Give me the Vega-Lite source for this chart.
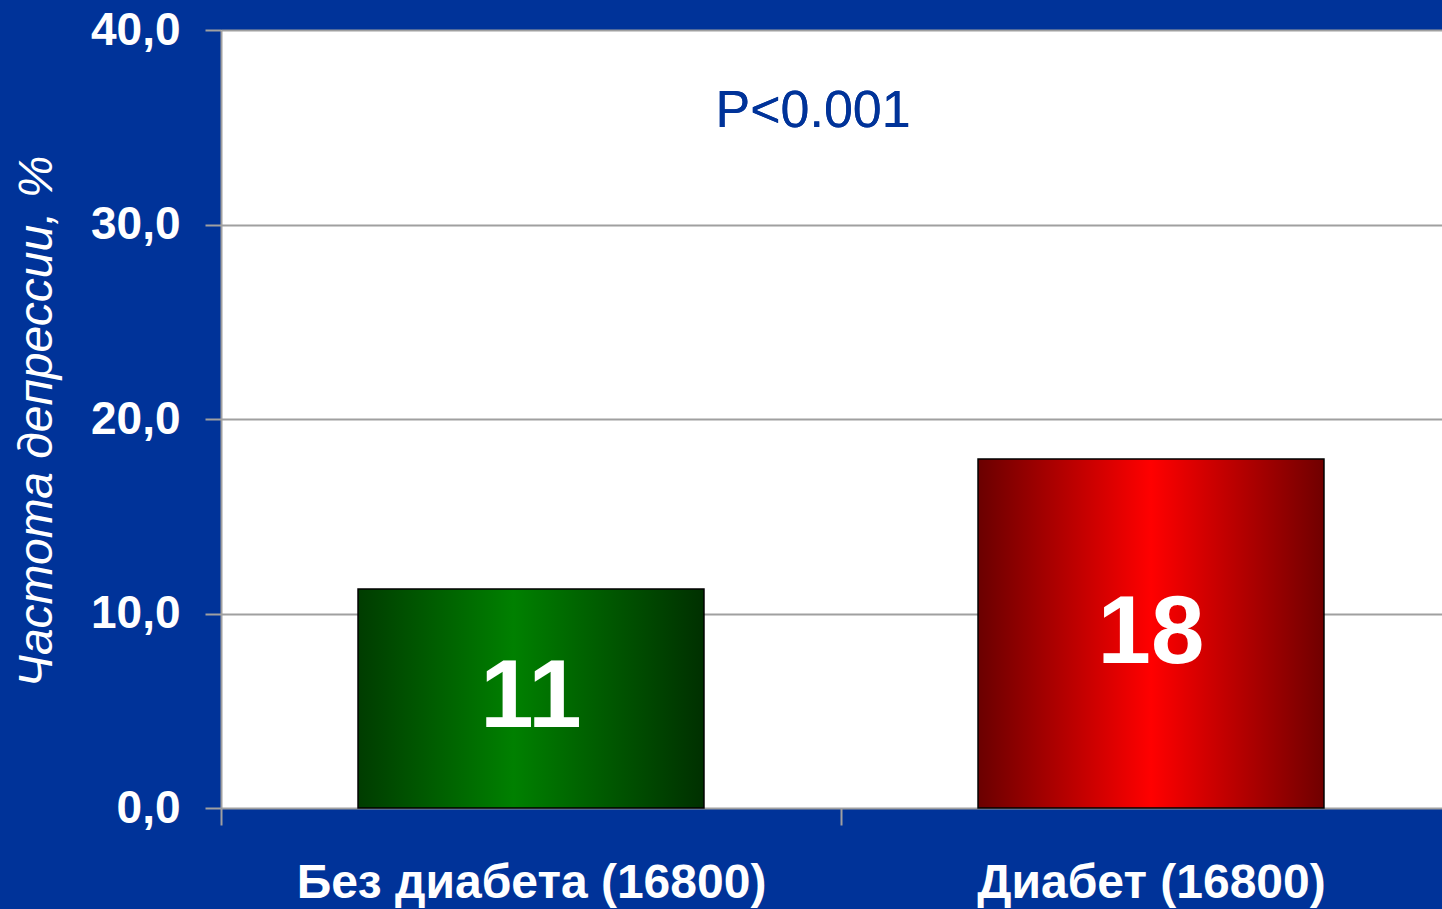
{
  "$schema": "https://vega.github.io/schema/vega-lite/v6.json",
  "autosize": {"type": "none"},
  "padding": {"left": 221, "top": 30, "right": 0, "bottom": 101},
  "width": 1221,
  "height": 778,
  "background": "#003399",
  "config": {
    "font": "Liberation Sans",
    "view": {"fill": "white", "stroke": null}
  },
  "data": {
    "values": [
      {"group": "Без диабета (16800)", "value": 11.26, "label": "11"},
      {"group": "Диабет (16800)", "value": 17.94, "label": "18"}
    ]
  },
  "encoding": {
    "x": {
      "field": "group",
      "type": "nominal",
      "sort": null,
      "scale": {"range": [0, 1240], "paddingInner": 0, "paddingOuter": 0},
      "axis": {
        "title": null,
        "labelAngle": 0,
        "labelLimit": 0,
        "labelFont": "Liberation Sans",
        "labelFontSize": 48,
        "labelFontWeight": "bold",
        "labelColor": "white",
        "labelPadding": 34,
        "tickBand": "extent",
        "tickSize": 17,
        "tickColor": "#a0a0a0",
        "tickWidth": 2,
        "domain": false,
        "grid": false
      }
    }
  },
  "layer": [
    {
      "mark": {
        "type": "bar",
        "width": {"band": 0.558},
        "stroke": "black",
        "strokeWidth": 1.5
      },
      "encoding": {
        "y": {
          "field": "value",
          "type": "quantitative",
          "scale": {"domain": [0, 40], "nice": false},
          "axis": {
            "values": [0, 10, 20, 30, 40],
            "format": ".1f",
            "formatType": "number",
            "labelExpr": "replace(datum.label, '.', ',')",
            "title": "Частота депрессии, %",
            "titleFont": "Liberation Sans",
            "titleFontSize": 48,
            "titleFontStyle": "italic",
            "titleFontWeight": "normal",
            "titleColor": "white",
            "titleAngle": 270,
            "titleBaseline": "middle",
            "titleAlign": "center",
            "titleX": -184,
            "titleY": 391,
            "labelFont": "Liberation Sans",
            "labelFontSize": 46,
            "labelFontWeight": "bold",
            "labelColor": "white",
            "labelPadding": 25,
            "labelBaseline": "middle",
            "tickSize": 16,
            "tickColor": "#a0a0a0",
            "tickWidth": 2,
            "domainColor": "#a0a0a0",
            "domainWidth": 2,
            "gridColor": "#a0a0a0",
            "gridWidth": 2
          }
        },
        "fill": {
          "condition": {
            "test": "datum.group === 'Диабет (16800)'",
            "value": {
              "gradient": "linear", "x1": 0, "x2": 1, "y1": 0, "y2": 0,
              "stops": [
                {"offset": 0, "color": "#6a0000"},
                {"offset": 0.5, "color": "#ff0000"},
                {"offset": 1, "color": "#700000"}
              ]
            }
          },
          "value": {
            "gradient": "linear", "x1": 0, "x2": 1, "y1": 0, "y2": 0,
            "stops": [
              {"offset": 0, "color": "#003c00"},
              {"offset": 0.45, "color": "#008000"},
              {"offset": 1, "color": "#003000"}
            ]
          }
        }
      }
    },
    {
      "mark": {
        "type": "text",
        "font": "Liberation Sans",
        "fontSize": 96,
        "fontWeight": "bold",
        "color": "white",
        "baseline": "middle",
        "align": "center"
      },
      "encoding": {
        "y": {
          "field": "value",
          "type": "quantitative",
          "scale": {"domain": [0, 80], "nice": false},
          "axis": null
        },
        "text": {"field": "label"}
      }
    },
    {
      "mark": {
        "type": "text",
        "font": "Liberation Sans",
        "fontSize": 52,
        "fontWeight": "normal",
        "color": "#003399",
        "baseline": "middle",
        "align": "center",
        "text": "P<0.001"
      },
      "encoding": {
        "x": {"datum": "Без диабета (16800)", "bandPosition": 0.955},
        "y": {
          "datum": 35.85,
          "type": "quantitative",
          "scale": {"domain": [0, 40], "nice": false},
          "axis": null
        }
      }
    }
  ],
  "resolve": {"scale": {"y": "independent"}}
}
